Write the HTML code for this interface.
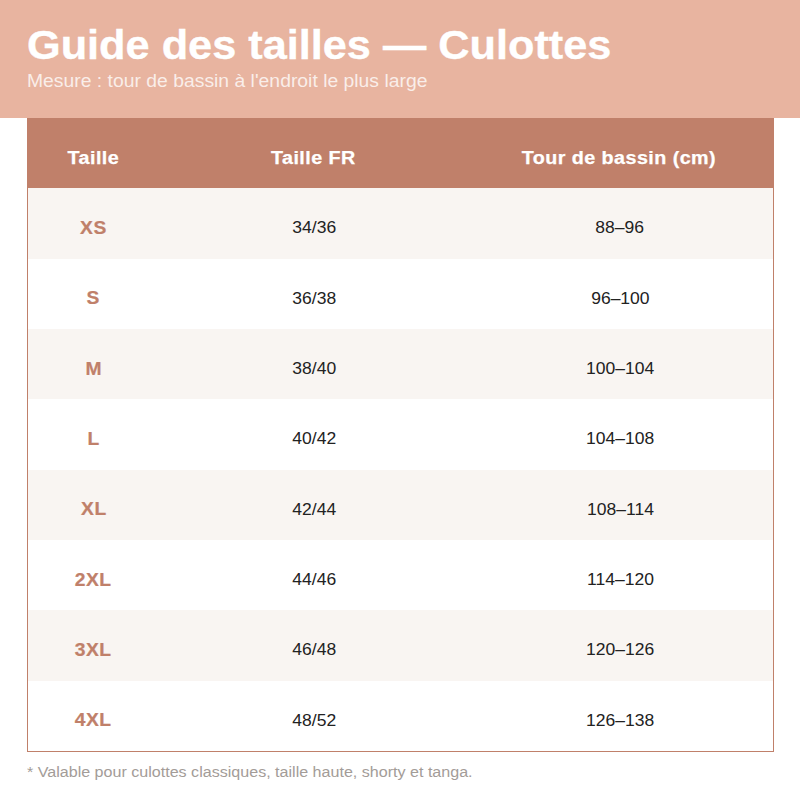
<!DOCTYPE html>
<html><head><meta charset="utf-8">
<style>
html,body{margin:0;padding:0;width:800px;height:800px;background:#fff;overflow:hidden;font-family:"Liberation Sans",sans-serif;}
.hdr{position:absolute;left:0;top:0;width:800px;height:118px;background:#E8B4A0;}
.title{position:absolute;left:27px;top:21.5px;font-size:40.0px;letter-spacing:0px;font-weight:bold;color:#fff;white-space:nowrap;line-height:46px;transform-origin:0 50%;transform:scaleX(1.0819);-webkit-text-stroke:0.35px #fff;}
.sub{position:absolute;left:27px;top:71.25px;font-size:17.68px;letter-spacing:0px;color:rgba(255,255,255,0.78);white-space:nowrap;line-height:20px;transform-origin:0 50%;transform:scaleX(1.0945);}
.tbl{position:absolute;left:27px;top:118px;width:745px;height:633px;border:1px solid #C0806A;border-top:none;}
.th{position:absolute;left:-1px;top:0;width:747px;height:70.33333333333333px;background:#C0806A;}
.row{position:absolute;left:0;width:745px;height:70.33333333333333px;}
.alt{background:#F9F5F2;}
.c{position:absolute;top:0;height:100%;display:flex;align-items:center;justify-content:center;white-space:nowrap;}
.c span{display:inline-block;}
.c1{left:0;width:131px;}
.c2{left:131px;width:310px;}
.c3{left:441px;width:302px;}
.th .c1{left:1px}
.th .c span{color:#fff;font-weight:bold;font-size:17.85px;letter-spacing:0.4px;transform:translateY(4.5px) scaleX(1.1057);-webkit-text-stroke:0.25px #fff;}
.row .c1 span{color:#C0806A;font-weight:bold;font-size:17.85px;letter-spacing:0.5px;transform:translateY(4.5px) scaleX(1.08);-webkit-text-stroke:0.2px #C0806A;}
.row .c2 span,.row .c3 span{color:#222;font-size:17.0px;letter-spacing:0px;transform:translateY(5.0px) scaleX(1.03);}
.foot{position:absolute;left:27px;top:763px;font-size:14.56px;letter-spacing:0px;color:#A39C98;white-space:nowrap;line-height:18px;transform-origin:0 50%;transform:scaleX(1.105);}
</style></head><body>
<div class="hdr"><div class="title">Guide des tailles — Culottes</div><div class="sub">Mesure : tour de bassin à l'endroit le plus large</div></div>
<div class="tbl">
<div class="th"><div class="c c1"><span>Taille</span></div><div class="c c2"><span>Taille FR</span></div><div class="c c3"><span>Tour de bassin (cm)</span></div></div>
<div class="row alt" style="top:70.333px"><div class="c c1"><span>XS</span></div><div class="c c2"><span>34/36</span></div><div class="c c3"><span>88–96</span></div></div>
<div class="row" style="top:140.667px"><div class="c c1"><span>S</span></div><div class="c c2"><span>36/38</span></div><div class="c c3"><span>96–100</span></div></div>
<div class="row alt" style="top:211.000px"><div class="c c1"><span>M</span></div><div class="c c2"><span>38/40</span></div><div class="c c3"><span>100–104</span></div></div>
<div class="row" style="top:281.333px"><div class="c c1"><span>L</span></div><div class="c c2"><span>40/42</span></div><div class="c c3"><span>104–108</span></div></div>
<div class="row alt" style="top:351.667px"><div class="c c1"><span>XL</span></div><div class="c c2"><span>42/44</span></div><div class="c c3"><span>108–114</span></div></div>
<div class="row" style="top:422.000px"><div class="c c1"><span>2XL</span></div><div class="c c2"><span>44/46</span></div><div class="c c3"><span>114–120</span></div></div>
<div class="row alt" style="top:492.333px"><div class="c c1"><span>3XL</span></div><div class="c c2"><span>46/48</span></div><div class="c c3"><span>120–126</span></div></div>
<div class="row" style="top:562.667px"><div class="c c1"><span>4XL</span></div><div class="c c2"><span>48/52</span></div><div class="c c3"><span>126–138</span></div></div>
</div>
<div class="foot">* Valable pour culottes classiques, taille haute, shorty et tanga.</div>
</body></html>
